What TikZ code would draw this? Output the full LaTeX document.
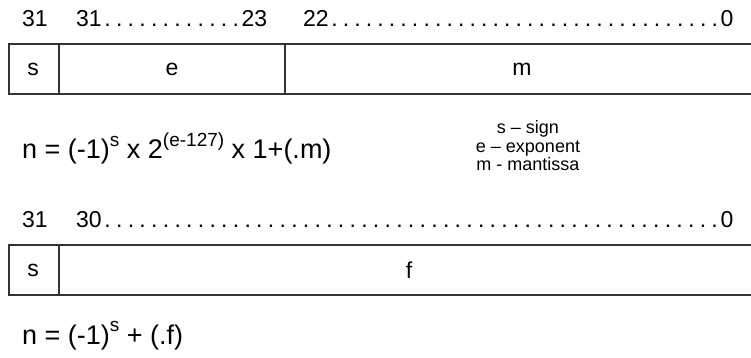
\documentclass[tikz,border=0pt]{standalone}
\usepackage{fontspec}
\setmainfont{Liberation Sans}

% bit range with dotted leader
\newcommand{\bitrange}[3]{\makebox[#1][l]{#2\xleaders\hbox to .5em{\hss.\hss}\hfill#3}}
\newcommand{\upidx}[1]{\raisebox{.45em}{\fontsize{19}{19}\selectfont #1}}

\tikzset{
  lbl/.style={inner sep=0pt, anchor=base west, font=\fontsize{23}{26}\selectfont},
  fld/.style={inner sep=0pt, font=\fontsize{23}{26}\selectfont},
  frm/.style={inner sep=0pt, anchor=base west, font=\fontsize{27}{30}\selectfont},
  box/.style={line width=1.2pt, black!80}
}

\begin{document}
\begin{tikzpicture}[x=1pt,y=-1pt]

\useasboundingbox (0,0) rectangle (751,358);

% single precision
\node[lbl] (b31) at (22,27) {31};
\node[lbl] (exp) at (76,27) {\bitrange{191pt}{31}{23}};
\node[lbl] (man) at (303,27) {\bitrange{430pt}{22}{0}};

\draw[box] (751,44) -| (9,94) -- (751,94);
\draw[box] (59,44) -- (59,94);
\draw[box] (285,44) -- (285,94);

\node[fld] (s1) at (33,69) {s};
\node[fld] (e1) at (172,69) {e};
\node[fld] (m1) at (522,69) {m};

\node[frm] (f1) at (22,159) {n = (-1)\upidx{s} x 2\upidx{(e-127)} x 1+(.m)};

% legend, anchored on its last line
\node[align=center, anchor=base, inner sep=0pt, font=\fontsize{18}{18.5}\selectfont] (key) at (528,171)
  {s -- sign\\ e -- exponent\\ m - mantissa};

% second format
\node[lbl] (c31) at (22,227) {31};
\node[lbl] (frc) at (76,227) {\bitrange{657pt}{30}{0}};

\draw[box] (751,245) -| (9,295) -- (751,295);
\draw[box] (59,245) -- (59,295);

\node[fld] (s2) at (33,270) {s};
\node[fld] (f2) at (409,270) {f};

\node[frm] (f3) at (22,344) {n = (-1)\upidx{s} + (.f)};

\end{tikzpicture}
\end{document}
